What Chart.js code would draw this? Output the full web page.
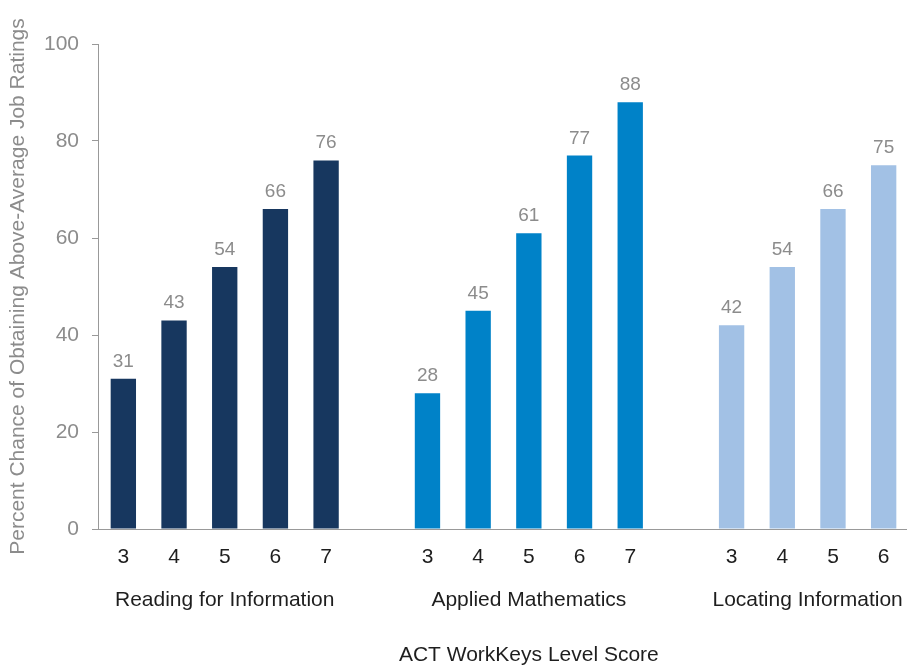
<!DOCTYPE html>
<html>
<head>
<meta charset="utf-8">
<script src="https://cdn.jsdelivr.net/npm/chart.js@4.4.1/dist/chart.umd.min.js"></script>
<style>
html,body{margin:0;padding:0;background:#fff;overflow:hidden;}
#wrap{width:910px;height:665px;position:relative;}
</style>
</head>
<body>
<div id="wrap"><canvas id="c"></canvas></div>
<script>
const tickLabels = ['3','4','5','6','7','','3','4','5','6','7','','3','4','5','6'];
const readingValues = [31,43,54,66,76];
const mathValues = [28,45,61,77,88];
const locatingValues = [42,54,66,75];
const groupNames = ['Reading for Information','Applied Mathematics','Locating Information'];
const xTitle = 'ACT WorkKeys Level Score';
const yTitle = 'Percent Chance of Obtaining Above-Average Job Ratings';
const yTicks = [0,20,40,60,80,100];

const colors = ['#17375f','#0082c8','#a2c1e5'];
const groups = [readingValues, mathValues, locatingValues];
const data = [], bg = [], groupIdx = [];
groups.forEach((g,gi)=>{
  const idx=[];
  g.forEach(v=>{ idx.push(data.length); data.push(v); bg.push(colors[gi]); });
  groupIdx.push(idx);
  if (gi < groups.length-1) { data.push(null); bg.push('rgba(0,0,0,0)'); }
});

const FONT = "'Liberation Sans', Arial, sans-serif";

const extras = {
  id:'extras',
  afterDatasetsDraw(chart){
    const ctx = chart.ctx;
    const meta = chart.getDatasetMeta(0);
    ctx.save();
    ctx.font = '19px ' + FONT;
    ctx.fillStyle = '#8c8c8c';
    ctx.textAlign = 'center';
    ctx.textBaseline = 'alphabetic';
    meta.data.forEach((bar,i)=>{
      const v = data[i];
      if (v === null || v === undefined) return;
      ctx.fillText(String(v), bar.x, bar.y - 12);
    });
    const xs = chart.scales.x;
    ctx.font = '21px ' + FONT;
    ctx.fillStyle = '#1e1e1e';
    groupIdx.forEach((idx,gi)=>{
      const cx = (xs.getPixelForValue(idx[0]) + xs.getPixelForValue(idx[idx.length-1]))/2;
      ctx.fillText(groupNames[gi], cx, 606);
    });
    const mid = groupIdx[1];
    const tx = (xs.getPixelForValue(mid[0]) + xs.getPixelForValue(mid[mid.length-1]))/2;
    ctx.fillText(xTitle, tx, 661);
    ctx.restore();
  }
};

new Chart(document.getElementById('c'), {
  type:'bar',
  data:{
    labels: tickLabels,
    datasets:[{ data: data, backgroundColor: bg, barPercentage: 0.5, categoryPercentage: 1.0 }]
  },
  options:{
    responsive:true,
    maintainAspectRatio:false,
    animation:false,
    layout:{ padding:{ top:44, right:1, left:0, bottom:0 } },
    plugins:{ legend:{display:false}, tooltip:{enabled:false} },
    scales:{
      x:{
        grid:{ display:true, drawOnChartArea:false, drawTicks:false, color:'#999' },
        border:{ display:true, color:'#999', width:1 },
        ticks:{ color:'#1e1e1e', font:{ family:FONT, size:21 }, padding:16, maxRotation:0, autoSkip:false },
        afterFit(s){ s.height = 136; }
      },
      y:{
        min:0, max:100,
        afterBuildTicks(s){ s.ticks = yTicks.map(v=>({value:v})); },
        grid:{ display:true, drawOnChartArea:false, drawTicks:true, tickLength:6, color:'#999' },
        border:{ display:true, color:'#999', width:1 },
        ticks:{ color:'#8c8c8c', font:{ family:FONT, size:21 }, padding:13 },
        title:{ display:true, text:yTitle, color:'#8c8c8c', font:{ family:FONT, size:21 }, padding:{ top:6, bottom:0 } },
        afterFit(s){ s.width = 98; }
      }
    }
  },
  plugins:[extras]
});
</script>
</body>
</html>
